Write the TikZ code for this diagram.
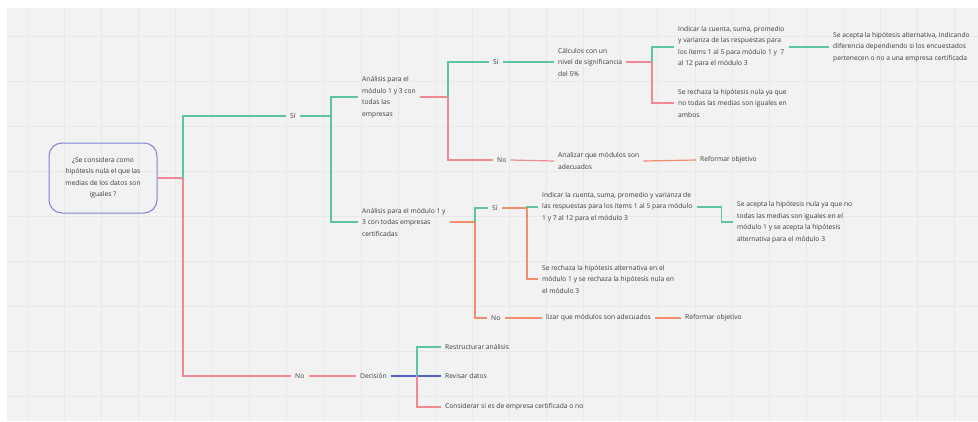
\documentclass[tikz,border=0pt]{standalone}
\usepackage{fontspec}
\setmainfont{Open Sans}
\definecolor{bg}{HTML}{F2F2F2}
\definecolor{gridc}{HTML}{E8E8E8}
\definecolor{gr}{HTML}{5CC4A4}
\definecolor{rd}{HTML}{F08A92}
\definecolor{og}{HTML}{F48C6E}
\definecolor{bl}{HTML}{4F5FC6}
\definecolor{rootc}{HTML}{7C82D8}
\definecolor{txt}{HTML}{3C3C3C}
\begin{document}
\begin{tikzpicture}[x=1pt,y=-1pt,
  t/.style={anchor=west, inner xsep=4pt, inner ysep=0pt, align=left, text=txt, font=\fontsize{6.7}{11.5}\selectfont},
  cg/.style={gr, line width=1.2pt},
  cr/.style={rd, line width=1.2pt},
  co/.style={og, line width=1.2pt},
  cb/.style={bl, line width=1.2pt}]
\useasboundingbox (0,0) rectangle (978,421);
\fill[white] (0,0) rectangle (978,421);
\fill[bg] (7,8) rectangle (978,421);
\foreach \i in {0,...,25} \draw[gridc, line width=0.6pt] ({27+37.1*\i},8) -- ({27+37.1*\i},421);
\foreach \j in {0,...,8} \draw[gridc, line width=0.6pt] (7,{36+45*\j}) -- (978,{36+45*\j});

\node[draw=rootc, rounded corners=13pt, line width=1pt, minimum width=108pt, minimum height=70pt, align=center, text=txt, font=\fontsize{6.7}{11.5}\selectfont] (root) at (103,178) {¿Se considera como\\hipótesis nula el que las\\medias de los datos son\\iguales ?};

\node[t] (si1) at (286,116) {Sí};
\node[t] (no1) at (291,376) {No};
\node[t] (a1) at (358,97) {Análisis para el\\módulo 1 y 3 con\\todas las\\empresas};
\node[t] (a2) at (358,222) {Análisis para el módulo 1 y\\3 con todas empresas\\certificadas};
\node[t] (si2) at (489,62) {Sí};
\node[t] (no2) at (493,160) {No};
\node[t] (c1) at (554,62) {Cálculos con un\\nivel de significancia\\del 5\%};
\node[t] (an1) at (554,161) {Analizar que módulos son\\adecuados};
\node[t] (ind1) at (674,47) {Indicar la cuenta, suma, promedio\\y varianza de las respuestas para\\los ítems 1 al 5 para módulo 1 y \ 7\\al 12 para el módulo 3};
\node[t] (sea1) at (829,47) {Se acepta la hipótesis alternativa, Indicando\\diferencia dependiendo si los encuestados\\pertenecen o no a una empresa certificada};
\node[t] (ser1) at (674,103) {Se rechaza la hipótesis nula ya que\\no todas las medias son iguales en\\ambos};
\node[t] (ref1) at (696,160) {Reformar objetivo};
\node[t] (si3) at (488,208) {Sí};
\node[t] (no3) at (487,318) {No};
\node[t] (ind2) at (538,207) {Indicar la cuenta, suma, promedio y varianza de\\las respuestas para los ítems 1 al 5 para módulo\\1 y 7 al 12 para el módulo 3};
\node[t] (sea2) at (733,222) {Se acepta la hipótesis nula ya que no\\todas las medias son iguales en el\\módulo 1 y se acepta la hipótesis\\alternativa para el módulo 3};
\node[t] (ser2) at (538,279) {Se rechaza la hipótesis alternativa en el\\módulo 1 y se rechaza la hipótesis nula en\\el módulo 3};
\node[t] (liz) at (542,318) {lizar que módulos son adecuados};
\node[t] (ref2) at (681,318) {Reformar objetivo};
\node[t] (dec) at (356,376) {Decisión};
\node[t] (r1) at (441,347) {Restructurar análisis};
\node[t] (r2) at (441,376) {Revisar datos};
\node[t] (r3) at (441,407) {Considerar si es de empresa certificada o no};

\coordinate (j0) at (183,178);
\coordinate (j1) at (331,116);
\coordinate (j2) at (448,97);
\coordinate (j3) at (652,62);
\coordinate (j4) at (475,222);
\coordinate (j5) at (527,208);
\coordinate (j7) at (417,376);

\draw[cr] (root.east) -- (j0);
\draw[cg] (j0) |- (si1.west);
\draw[cr] (j0) |- (no1.west);
\draw[cg] (si1.east) -- (j1);
\draw[cg] (j1) |- (a1.west);
\draw[cg] (j1) |- (a2.west);
\draw[cr] (a1.east) -- (j2);
\draw[cg] (j2) |- (si2.west);
\draw[cr] (j2) |- (no2.west);
\draw[cg] (si2.east) -- (c1.west);
\draw[cr] (no2.east) -- (an1.west);
\draw[cr] (c1.east) -- (j3);
\draw[cg] (j3) |- (ind1.west);
\draw[cr] (j3) |- (ser1.west);
\draw[cg] (ind1.east) -- (sea1.west);
\draw[co] (an1.east) -- (ref1.west);
\draw[co] (a2.east) -- (j4);
\draw[cg] (j4) |- (si3.west);
\draw[co] (j4) |- (no3.west);
\draw[co] (si3.east) -- (j5);
\draw[cg] (j5) |- (ind2.west);
\draw[co] (j5) |- (ser2.west);
\draw[cg] (ind2.east) -- ++(25,0) |- (sea2.west);
\draw[co] (no3.east) -- (liz.west);
\draw[co] (liz.east) -- (ref2.west);
\draw[cr] (no1.east) -- (dec.west);
\draw[cb] (dec.east) -- (r2.west);
\draw[cg] (j7) |- (r1.west);
\draw[cr] (j7) |- (r3.west);
\end{tikzpicture}
\end{document}
